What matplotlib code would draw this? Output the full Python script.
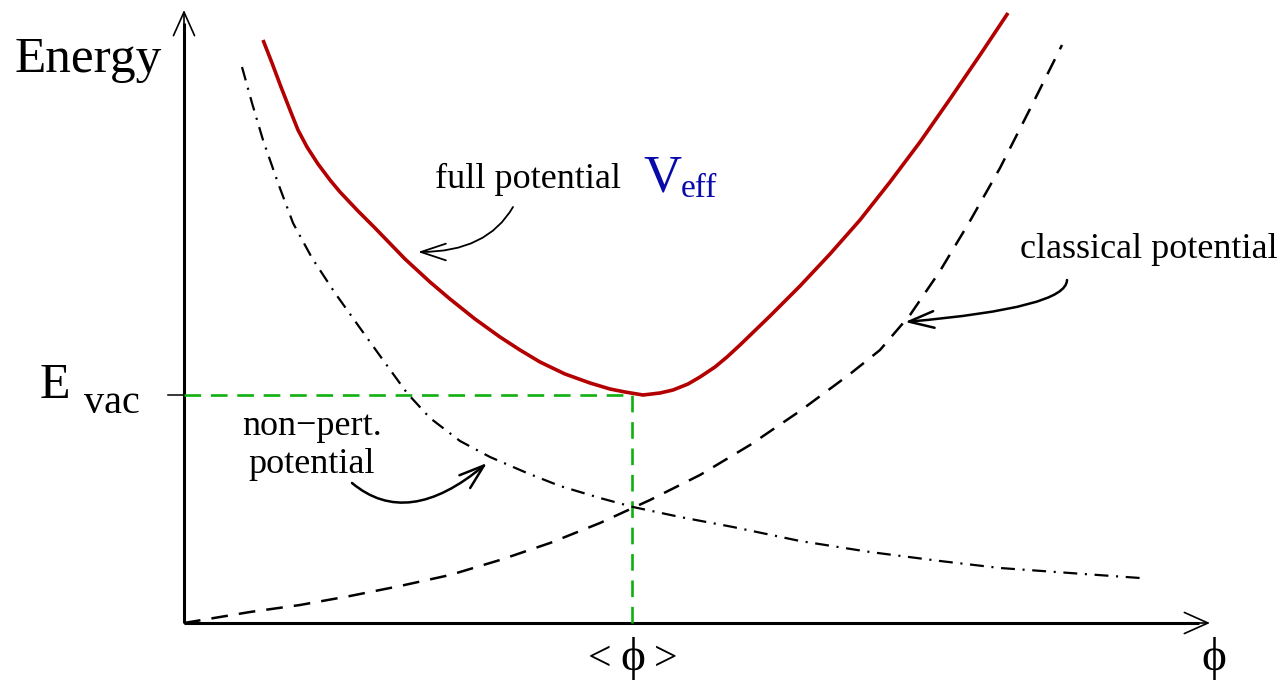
import numpy as np
import matplotlib.pyplot as plt
from matplotlib.patches import FancyArrowPatch

plt.rcParams['font.family'] = ['Liberation Serif', 'DejaVu Serif']
plt.rcParams['lines.scale_dashes'] = False

# curves, in axis units (origin at the corner of the two arrows)
full_x = [79, 88, 97, 106, 114, 123, 134, 146, 156, 174, 191, 221, 246, 266, 291, 316, 336,
          356, 381, 406, 426, 441, 459, 476, 489, 504, 516, 531, 543, 556, 586, 616, 646,
          676, 706, 736, 766, 796, 824]
full_y = [583, 560, 536, 513, 493, 476, 459, 443, 431, 412, 395, 364, 341, 324, 304, 286, 273,
          261, 249, 240, 234, 231, 228, 230, 233, 239, 246, 256, 266, 278, 307, 337, 369,
          403, 441, 481, 524, 568, 610]

npert_x = [58, 68, 79, 94, 109, 128, 151, 176, 199, 223, 246, 276, 306, 343, 376, 416, 449,
           496, 549, 616, 686, 756, 816, 886, 956]
npert_y = [556, 520, 483, 440, 400, 365, 330, 295, 263, 230, 205, 182, 166, 150, 137, 125, 116,
           106, 96, 82, 71, 62, 55, 50, 45]

class_x = [0, 66, 116, 166, 216, 266, 316, 366, 416, 466, 516, 566, 616, 666, 696, 726, 756,
           786, 816, 846, 878]
class_y = [0, 11, 18, 27, 37, 48, 63, 80, 100, 123, 148, 178, 212, 249, 273, 308, 352,
           402, 455, 514, 578]

phi_vac = 448
E_vac = 228

fig = plt.figure(figsize=(12.83, 6.84), dpi=100)
ax = fig.add_axes([0, 0, 1, 1])
ax.set_xlim(-184, 1099)
ax.set_ylim(-61, 623)
ax.axis('off')

# coordinate arrows: thick shaft, thin open head
ax.plot([0, 0], [0, 600], color='black', lw=2.2, solid_capstyle='butt')
ax.plot([0, 1015], [0, 0], color='black', lw=2.2, solid_capstyle='butt')
for a, b in [((0, 560), (0, 613)), ((970, 0), (1026, 0))]:
    ax.add_patch(FancyArrowPatch(a, b, arrowstyle='->,head_length=0.85,head_width=0.38',
                                 mutation_scale=20, lw=1.2, color='black', shrinkA=0, shrinkB=0))

# E_vac tick and guide lines
ax.plot([-16, 0], [E_vac, E_vac], color='black', lw=1.1)
ax.plot([0, phi_vac], [E_vac, E_vac], color='#10b010', lw=1.9, dashes=(12, 7))
ax.plot([phi_vac, phi_vac], [0, E_vac], color='#10b010', lw=1.9, dashes=(12, 7))

ax.plot(class_x, class_y, color='black', lw=1.8, dashes=(12, 8))
ax.plot(npert_x, npert_y, color='black', lw=1.6, dashes=(10, 5.5, 1.5, 5.5))
ax.plot(full_x, full_y, color='#b30000', lw=2.6, solid_capstyle='butt', solid_joinstyle='round')

# labels
phi = '\u03d5'
ax.text(-169, 551, 'Energy', fontsize=37, ha='left', va='baseline')
ax.text(-144, 225, 'E', fontsize=36, ha='left', va='baseline')
ax.text(-100, 210, 'vac', fontsize=29, ha='left', va='baseline')
ax.text(416, -47, '<', fontsize=30, ha='center', va='baseline')
ax.text(449, -47, phi, fontsize=34, ha='center', va='baseline')
ax.text(482, -47, '>', fontsize=30, ha='center', va='baseline')
ax.text(1030, -47, phi, fontsize=34, ha='center', va='baseline')

ax.text(251, 435, 'full potential', fontsize=26, ha='left', va='baseline')
ax.text(459, 431, 'V', fontsize=38, ha='left', va='baseline', color='#0a0aaa')
ax.text(497, 426, 'eff', fontsize=24, ha='left', va='baseline', color='#0a0aaa')
ax.text(836, 365, 'classical potential', fontsize=26, ha='left', va='baseline')
ax.text(128, 188, 'non−pert.', fontsize=26, ha='center', va='baseline')
ax.text(128, 150, 'potential', fontsize=26, ha='center', va='baseline')

# pointer arrows
pointers = [((329, 416), (234, 371), 'angle3,angleA=60,angleB=0', 1.3),
            ((168, 140), (303, 160), 'angle3,angleA=-40,angleB=40', 1.8),
            ((883, 343), (721, 301), 'angle3,angleA=90,angleB=5', 1.8)]
for a, b, cs, w in pointers:
    ax.add_patch(FancyArrowPatch(a, b, arrowstyle='->,head_length=0.9,head_width=0.3',
                                 connectionstyle=cs, mutation_scale=20, lw=w,
                                 color='black', shrinkA=0, shrinkB=0))

fig.savefig('out.png', dpi=100)
